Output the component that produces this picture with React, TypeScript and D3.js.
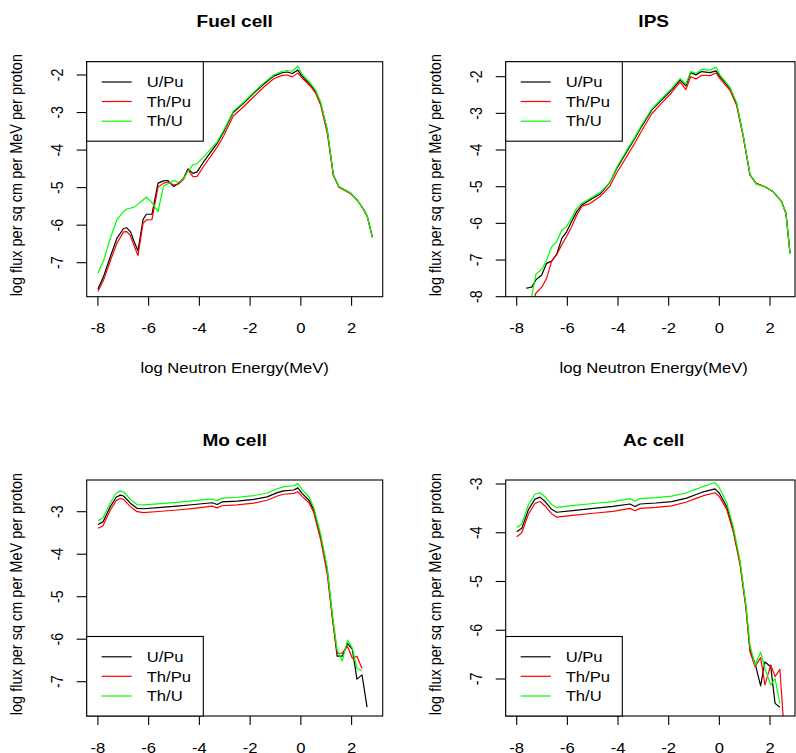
import React, { useEffect, useRef } from "react";
import * as d3 from "d3";

// series (legend order) and colours
const seriesNames = ["U/Pu", "Th/Pu", "Th/U"];
const seriesColors = ["#000000", "#ff0000", "#00ff00"];
const xTicks = [-8, -6, -4, -2, 0, 2];

// Fuel cell
const fuelX = [-8, -7.78, -7.51, -7.25, -6.99, -6.86, -6.72, -6.57, -6.42, -6.22, -6.09, -5.87, -5.63, -5.41, -5.25, -5.01, -4.82, -4.62, -4.45, -4.25, -4.09, -3.83, -3.3, -3.04, -2.67, -2.25, -1.86, -1.46, -1.07, -0.74, -0.54, -0.34, -0.12, 0.05, 0.38, 0.58, 0.78, 1.04, 1.28, 1.5, 1.96, 2.22, 2.49, 2.62, 2.82];
const fuelUPu = [-7.71, -7.37, -6.84, -6.35, -6.09, -6.07, -6.17, -6.44, -6.68, -5.85, -5.71, -5.71, -4.88, -4.82, -4.81, -4.97, -4.89, -4.75, -4.5, -4.62, -4.58, -4.31, -3.82, -3.51, -3.0, -2.75, -2.49, -2.24, -2.03, -1.94, -1.92, -1.96, -1.87, -2.03, -2.27, -2.44, -2.75, -3.47, -4.66, -4.98, -5.15, -5.33, -5.6, -5.77, -6.32];
const fuelThPu = [-7.77, -7.47, -6.95, -6.48, -6.18, -6.17, -6.28, -6.55, -6.81, -5.95, -5.86, -5.85, -4.99, -4.88, -4.85, -4.93, -4.9, -4.78, -4.53, -4.71, -4.7, -4.43, -3.92, -3.62, -3.1, -2.84, -2.58, -2.32, -2.1, -2.01, -2.0, -2.05, -1.95, -2.08, -2.3, -2.48, -2.8, -3.55, -4.68, -4.99, -5.16, -5.33, -5.6, -5.78, -6.32];
const fuelThU = [-7.28, -6.95, -6.35, -5.85, -5.64, -5.57, -5.55, -5.52, -5.44, -5.33, -5.25, -5.4, -5.64, -4.95, -4.9, -4.81, -4.86, -4.76, -4.57, -4.39, -4.36, -4.18, -3.78, -3.47, -2.97, -2.72, -2.46, -2.21, -2.0, -1.9, -1.88, -1.9, -1.76, -1.98, -2.22, -2.4, -2.72, -3.45, -4.65, -4.97, -5.14, -5.33, -5.6, -5.77, -6.33];

// IPS
const ipsX = [-7.63, -7.41, -7.24, -7.01, -6.82, -6.62, -6.42, -6.22, -6.03, -5.83, -5.63, -5.43, -5.11, -4.71, -4.32, -4.05, -3.66, -3.33, -3.07, -2.67, -2.28, -1.88, -1.55, -1.32, -1.13, -0.92, -0.7, -0.37, -0.13, 0.03, 0.42, 0.68, 0.95, 1.21, 1.45, 1.8, 2.13, 2.46, 2.63, 2.79];
const ipsUPu = [-7.77, -7.74, -7.54, -7.41, -7.09, -7.03, -6.84, -6.41, -6.23, -5.95, -5.68, -5.5, -5.36, -5.2, -4.88, -4.5, -4.05, -3.68, -3.36, -2.91, -2.64, -2.36, -2.09, -2.25, -1.89, -1.95, -1.86, -1.89, -1.84, -2.0, -2.32, -2.73, -3.64, -4.68, -4.91, -5.0, -5.14, -5.41, -5.73, -6.82];
const ipsThPu = [-8.8, -8.25, -7.9, -7.74, -7.5, -7.03, -6.85, -6.58, -6.36, -6.09, -5.78, -5.53, -5.46, -5.27, -4.98, -4.62, -4.18, -3.8, -3.48, -3.01, -2.72, -2.43, -2.15, -2.35, -2.0, -2.06, -1.96, -1.97, -1.9, -2.06, -2.37, -2.78, -3.66, -4.68, -4.91, -5.0, -5.14, -5.4, -5.73, -6.8];
const ipsThU = [-8.6, -8.0, -7.38, -7.25, -7.0, -6.64, -6.5, -6.18, -6.09, -5.85, -5.59, -5.45, -5.32, -5.16, -4.88, -4.47, -4.01, -3.64, -3.32, -2.88, -2.6, -2.32, -2.05, -2.2, -1.86, -1.91, -1.8, -1.82, -1.74, -1.96, -2.29, -2.7, -3.62, -4.66, -4.93, -5.0, -5.14, -5.41, -5.74, -6.82];

// Mo cell
const moX = [-8, -7.8, -7.51, -7.28, -7.12, -6.99, -6.72, -6.46, -6.2, -5.5, -4.88, -4.2, -3.5, -3.3, -3.11, -2.5, -1.86, -1.33, -0.93, -0.67, -0.28, -0.12, 0.05, 0.32, 0.51, 0.78, 1.04, 1.24, 1.43, 1.63, 1.84, 2.03, 2.21, 2.41, 2.61];
const moUPu = [-3.3, -3.24, -2.88, -2.66, -2.61, -2.63, -2.8, -2.92, -2.93, -2.9, -2.87, -2.83, -2.79, -2.83, -2.77, -2.75, -2.71, -2.65, -2.55, -2.51, -2.49, -2.44, -2.57, -2.73, -2.96, -3.59, -4.37, -5.45, -6.4, -6.4, -6.1, -6.24, -6.94, -6.84, -7.6];
const moThPu = [-3.39, -3.33, -2.96, -2.74, -2.69, -2.71, -2.88, -3.0, -3.02, -2.99, -2.96, -2.92, -2.87, -2.91, -2.86, -2.84, -2.8, -2.73, -2.63, -2.59, -2.57, -2.53, -2.64, -2.79, -3.02, -3.66, -4.47, -5.5, -6.33, -6.33, -6.17, -6.45, -6.4, -6.69, null];
const moThU = [-3.21, -3.15, -2.79, -2.56, -2.51, -2.53, -2.71, -2.83, -2.84, -2.81, -2.78, -2.74, -2.7, -2.74, -2.68, -2.66, -2.62, -2.56, -2.46, -2.41, -2.39, -2.34, -2.48, -2.65, -2.9, -3.53, -4.32, -5.4, -6.25, -6.51, -6.02, -6.21, -6.69, -6.74, null];

// Ac cell
const acX = [-8, -7.8, -7.54, -7.28, -7.08, -6.88, -6.62, -6.42, -5.7, -4.97, -4.2, -3.53, -3.33, -3.13, -2.5, -1.88, -1.29, -0.89, -0.63, -0.17, 0, 0.29, 0.55, 0.82, 1.05, 1.21, 1.41, 1.63, 1.8, 2.03, 2.2, 2.39, 2.59];
const acUPu = [-3.98, -3.91, -3.53, -3.31, -3.27, -3.36, -3.52, -3.58, -3.54, -3.5, -3.46, -3.41, -3.46, -3.41, -3.39, -3.36, -3.29, -3.21, -3.16, -3.1, -3.19, -3.46, -3.94, -4.63, -5.52, -6.41, -6.68, -7.14, -6.65, -6.75, -7.5, -7.58, null];
const acThPu = [-4.08, -4.0, -3.62, -3.4, -3.36, -3.45, -3.61, -3.68, -3.64, -3.6, -3.56, -3.5, -3.55, -3.5, -3.48, -3.45, -3.37, -3.29, -3.24, -3.18, -3.26, -3.52, -3.98, -4.66, -5.55, -6.44, -6.75, -6.56, -7.12, -6.71, -6.95, -6.8, -8.3];
const acThU = [-3.89, -3.82, -3.43, -3.21, -3.18, -3.26, -3.42, -3.48, -3.44, -3.4, -3.36, -3.3, -3.35, -3.3, -3.28, -3.25, -3.18, -3.1, -3.05, -2.97, -3.08, -3.38, -3.88, -4.58, -5.48, -6.3, -6.72, -6.45, -6.78, -7.12, -6.99, -7.5, null];

const FONT = "'Liberation Sans', Arial, Helvetica, sans-serif";
const SX = 1.17; // the picture is a bit wider than tall

const App = () => {
  const ref = useRef<SVGSVGElement>(null);

  useEffect(() => {
    const W = 796;
    const H = 753;
    const svg = d3.select(ref.current);
    svg.selectAll("*").remove();
    svg.append("rect").attr("width", W).attr("height", H).attr("fill", "#fff");

    const cols = [
      { left: 86.7, right: 382.7, x8: 97.9, x2: 351.6 },
      { left: 505.7, right: 795, x8: 516.7, x2: 770 },
    ];
    const rows = [
      { top: 61.7, bottom: 296.7 },
      { top: 480, bottom: 716 },
    ];

    const panels = [
      { title: "Fuel cell", c: 0, r: 0, x: fuelX, ys: [fuelUPu, fuelThPu, fuelThU], yTicks: [-7, -6, -5, -4, -3, -2], ya: [-2, 75], yb: [-7, 262.7], legendBottom: false },
      { title: "IPS", c: 1, r: 0, x: ipsX, ys: [ipsUPu, ipsThPu, ipsThU], yTicks: [-8, -7, -6, -5, -4, -3, -2], ya: [-2, 76.7], yb: [-8, 296.7], legendBottom: false },
      { title: "Mo cell", c: 0, r: 1, x: moX, ys: [moUPu, moThPu, moThU], yTicks: [-7, -6, -5, -4, -3], ya: [-3, 511.7], yb: [-7, 681.7], legendBottom: true },
      { title: "Ac cell", c: 1, r: 1, x: acX, ys: [acUPu, acThPu, acThU], yTicks: [-7, -6, -5, -4, -3], ya: [-3, 484], yb: [-7, 679], legendBottom: true },
    ];

    const text = (g, x, y, s, size, rot = false, weight = "normal", anchor = "middle") =>
      g
        .append("text")
        .attr("transform", `translate(${x},${y}) scale(${SX},1)${rot ? " rotate(-90)" : ""}`)
        .attr("text-anchor", anchor)
        .attr("font-family", FONT)
        .attr("font-size", size)
        .attr("font-weight", weight)
        .attr("fill", "#000")
        .text(s);

    panels.forEach((p, pi) => {
      const col = cols[p.c];
      const row = rows[p.r];
      const g = svg.append("g");

      const xs = d3.scaleLinear().domain([-8, 2]).range([col.x8, col.x2]);
      const ys = d3.scaleLinear().domain([p.yb[0], p.ya[0]]).range([p.yb[1], p.ya[1]]);

      // clip to plot region
      const clipId = `clip${pi}`;
      svg
        .append("clipPath")
        .attr("id", clipId)
        .append("rect")
        .attr("x", col.left)
        .attr("y", row.top)
        .attr("width", col.right - col.left)
        .attr("height", row.bottom - row.top);

      // lines
      const line = d3
        .line<number | null>()
        .defined((d) => d != null)
        .x((d, i) => xs(p.x[i]))
        .y((d) => ys(d as number));

      const lg = g.append("g").attr("clip-path", `url(#${clipId})`);
      p.ys.forEach((vals, si) => {
        lg.append("path")
          .attr("d", line(vals))
          .attr("fill", "none")
          .attr("stroke", seriesColors[si])
          .attr("stroke-width", 1.2)
          .attr("stroke-linejoin", "round");
      });

      // box
      g.append("rect")
        .attr("x", col.left)
        .attr("y", row.top)
        .attr("width", col.right - col.left)
        .attr("height", row.bottom - row.top)
        .attr("fill", "none")
        .attr("stroke", "#000")
        .attr("stroke-width", 1.1);

      // x axis
      xTicks.forEach((t) => {
        g.append("line")
          .attr("x1", xs(t)).attr("x2", xs(t))
          .attr("y1", row.bottom).attr("y2", row.bottom + 9)
          .attr("stroke", "#000").attr("stroke-width", 1.1);
        text(g, xs(t), row.bottom + 36.6, String(t), 14.2);
      });

      // y axis
      p.yTicks.forEach((t) => {
        g.append("line")
          .attr("x1", col.left - 10).attr("x2", col.left)
          .attr("y1", ys(t)).attr("y2", ys(t))
          .attr("stroke", "#000").attr("stroke-width", 1.1);
        text(g, col.left - 24, ys(t), String(t), 14.2, true);
      });

      // titles
      const cx = (col.left + col.left + 296) / 2;
      text(g, cx, row.top - 34.4, p.title, 16.3, false, "bold");
      text(g, cx, row.bottom + 76, "log Neutron Energy(MeV)", 14.2);
      text(g, col.left - 64.7, (row.top + row.bottom) / 2 - 4, "log flux per sq cm per MeV per proton", 14.5, true);

      // legend
      const lw = 116.6;
      const lh = 79.5;
      const lx = col.left;
      const ly = p.legendBottom ? row.bottom - lh : row.top;
      g.append("rect")
        .attr("x", lx).attr("y", ly).attr("width", lw).attr("height", lh)
        .attr("fill", "#fff").attr("stroke", "#000").attr("stroke-width", 1.1);
      const rowOff = [20.3, 39.8, 59.5];
      seriesNames.forEach((name, si) => {
        const yy = ly + rowOff[si];
        g.append("line")
          .attr("x1", lx + 15).attr("x2", lx + 45)
          .attr("y1", yy).attr("y2", yy)
          .attr("stroke", seriesColors[si]).attr("stroke-width", 1.2);
        text(g, lx + 60, yy + 5.2, name, 14.2, false, "normal", "start");
      });
    });
  }, []);

  return (
    <div style={{ position: "absolute", left: 0, top: 0 }}>
      <svg ref={ref} width={796} height={753} style={{ display: "block" }} />
    </div>
  );
};

export default App;
